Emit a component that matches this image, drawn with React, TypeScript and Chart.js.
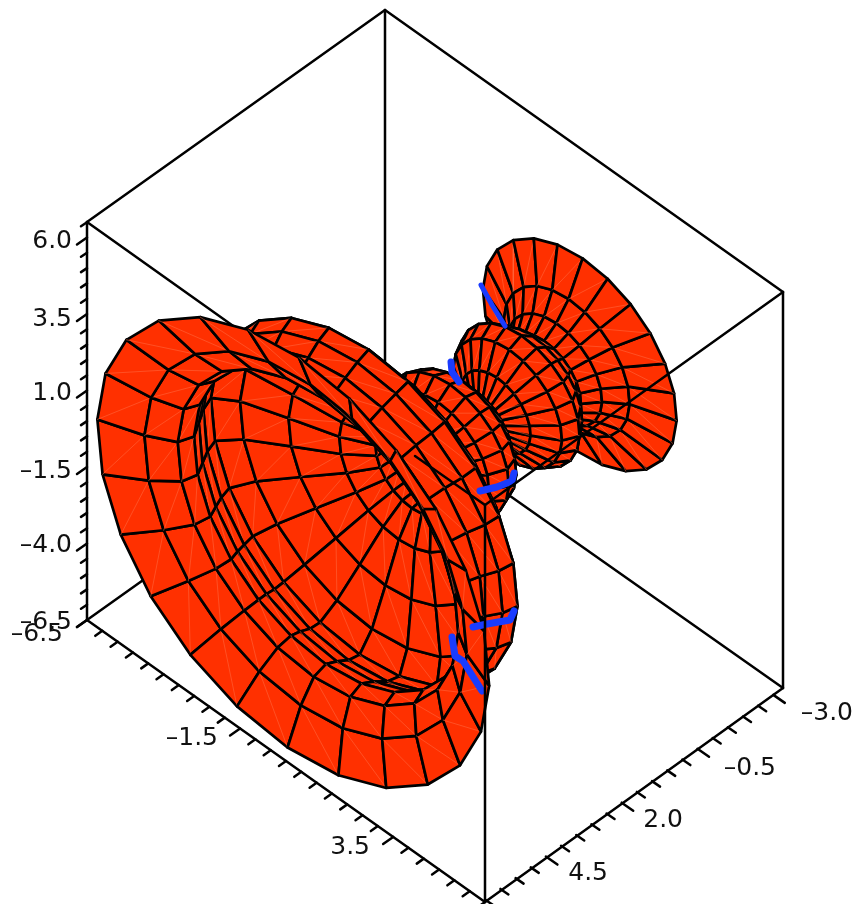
import React, { useEffect, useRef } from "react";
import { Chart, registerables } from "chart.js";

Chart.register(...registerables);

// Surface of revolution: profile (distance along axis, radius, small shift across the axis), in picture units
const ringS = [0, 14.5, 29, 43.5, 58, 72.5, 87, 101.5, 116, 130.5, 145, 159.5, 174, 188.5, 203, 217.5, 232, 246.5, 261, 275.5, 290, 304.5, 319, 333.5, 348];
const ringR = [271, 223, 194, 188, 197, 207, 212, 188, 138, 85, 52, 50, 72, 84, 78, 55, 18, 48, 75, 83, 70, 52, 65, 87, 134];
const ringShift = [-3, -2, -1, -1, -2, -2, -3, -3, -2, -1, 0, 0, 0, -1, -1, 0, 0, 0, 0, 0, 0, 0, 0, 0, 2];
const spokeDeg = [5, 20, 35, 50, 65, 80, 95, 110, 125, 140, 155, 170, 185, 200, 215, 230, 245, 260, 275, 290, 305, 320, 335, 350];
const axisOrigin = [295, 555];
const axisDir = [0.815, -0.58];
const aspect = 0.53;

// Box edges
const boxBack = [
  [[87, 222], [385, 10]], [[385, 10], [783, 292]], [[385, 10], [385, 408]],
  [[87, 222], [87, 620]], [[783, 292], [783, 688]], [[87, 620], [485, 902]],
  [[783, 688], [485, 902]], [[87, 620], [385, 408]], [[783, 688], [385, 408]],
  [[87, 222], [485, 505]],
];
const boxFront = [
  [[783, 292], [485, 505]], [[485, 505], [485, 902]], [[415, 456], [485, 505]],
];

// Blue curve, visible pieces
const blueA = [[481, 285], [492, 305], [505, 326]];
const blueB = [[451, 362], [452, 372], [459, 382]];
const blueC = [[514, 473], [512, 481], [497, 487], [480, 491]];
const blueD = [[514, 611], [510, 620], [487, 624], [473, 627]];
const blueE = [[452, 637], [455, 656], [463, 661], [482, 691]];

// Tick marks: axis positions (value, major)
const zTicks = [6.5, 6, 5.5, 5, 4.5, 4, 3.5, 3, 2.5, 2, 1.5, 1, 0.5, 0, -0.5, -1, -1.5, -2, -2.5, -3, -3.5, -4, -4.5, -5, -5.5, -6, -6.5];
const zMajor = [6, 3.5, 1, -1.5, -4, -6.5];
const xTicks = [-6.5, -6, -5.5, -5, -4.5, -4, -3.5, -3, -2.5, -2, -1.5, -1, -0.5, 0, 0.5, 1, 1.5, 2, 2.5, 3, 3.5, 4, 4.5, 5, 5.5, 6, 6.5];
const xMajor = [-6.5, -1.5, 3.5];
const yTicks = [-3, -2.5, -2, -1.5, -1, -0.5, 0, 0.5, 1, 1.5, 2, 2.5, 3, 3.5, 4, 4.5, 5, 5.5, 6, 6.5];
const yMajor = [-3, -0.5, 2, 4.5];

// Tick labels: text, right edge, vertical middle
const labelTexts = ["6.0", "3.5", "1.0", "–1.5", "–4.0", "–6.5", "–6.5", "–1.5", "3.5", "–3.0", "–0.5", "2.0", "4.5"];
const labelX = [72, 72, 72, 72, 72, 72, 63, 218, 370, 853, 776, 683, 608];
const labelY = [241, 319, 393, 471, 545, 622, 634, 738, 847, 713, 768, 820, 873];

const RED = "#ff3000";
const BLUE = "#1a3cff";
const BLACK = "#000000";
const W = 2.7;

const pt = (p: number[]) => ({ x: p[0], y: p[1] });

function line(points: number[][], color: string, width: number, extra: object = {}) {
  return {
    data: points.map(pt),
    showLine: true,
    borderColor: color,
    borderWidth: width,
    pointRadius: 0,
    tension: 0,
    fill: false,
    clip: false,
    borderCapStyle: "round",
    borderJoinStyle: "round",
    ...extra,
  };
}

function vertex(i: number, j: number) {
  const rad = (spokeDeg[j] * Math.PI) / 180;
  const r = ringR[i];
  const major = [-axisDir[1], axisDir[0]];
  const cx = axisOrigin[0] + ringS[i] * axisDir[0] + ringShift[i] * major[0];
  const cy = axisOrigin[1] + ringS[i] * axisDir[1] + ringShift[i] * major[1];
  const a = r * Math.cos(rad);
  const b = r * Math.sin(rad) * aspect;
  return {
    p: [cx + a * major[0] + b * axisDir[0], cy + a * major[1] + b * axisDir[1]],
    z: -0.625 * ringS[i] + 0.848 * r * Math.sin(rad),
  };
}

function meshDatasets() {
  const quads: { z: number; c: number[][] }[] = [];
  for (let i = 0; i < ringS.length - 1; i++) {
    for (let j = 0; j < spokeDeg.length; j++) {
      const k = (j + 1) % spokeDeg.length;
      const v = [vertex(i, j), vertex(i + 1, j), vertex(i + 1, k), vertex(i, k)];
      quads.push({ z: (v[0].z + v[1].z + v[2].z + v[3].z) / 4, c: v.map((q) => q.p) });
    }
  }
  // first dataset is painted last, so nearest first
  quads.sort((a, b) => b.z - a.z);
  const out: object[] = [];
  for (const q of quads) {
    out.push(line([q.c[1], q.c[3]], "#ff7048", 0.5));
    out.push(line([q.c[0], q.c[1], q.c[2], q.c[3], q.c[0]], BLACK, W, { fill: "shape", backgroundColor: RED }));
  }
  return out;
}

function tickDatasets() {
  const out: object[] = [];
  for (const z of zTicks) {
    const y = 620 - (z + 6.5) * 15.3 * 2;
    const m = zMajor.includes(z);
    out.push(line([[87, y], [87 - (m ? 10 : 6), y + (m ? 7 : 4)]], BLACK, 2.5));
  }
  for (const x of xTicks) {
    const t = (x + 6.5) / 13;
    const ax = 87 + t * 398;
    const ay = 620 + t * 282;
    const m = xMajor.includes(x);
    out.push(line([[ax, ay], [ax - (m ? 10 : 7), ay + (m ? 7 : 5)]], BLACK, 2.5));
  }
  for (const v of yTicks) {
    const ax = 773.3 - (v + 3) * 2 * 15.16;
    const ay = 688 + (783 - ax) * 0.711;
    const m = yMajor.includes(v);
    out.push(line([[ax, ay], [ax + (m ? 11.5 : 8), ay + (m ? 8 : 5.5)]], BLACK, 2.5));
  }
  return out;
}

const labelPlugin = {
  id: "tickLabels",
  afterDraw(chart: any) {
    const { ctx, scales } = chart;
    ctx.save();
    ctx.font = '25px "DejaVu Sans"';
    ctx.fillStyle = "#111111";
    ctx.textAlign = "right";
    ctx.textBaseline = "middle";
    labelTexts.forEach((t, i) => {
      ctx.fillText(t, scales.x.getPixelForValue(labelX[i]), scales.y.getPixelForValue(labelY[i]));
    });
    ctx.restore();
  },
};

export default function App() {
  const ref = useRef<HTMLCanvasElement | null>(null);
  useEffect(() => {
    if (!ref.current) return;
    const datasets: any[] = [
      ...boxFront.map((e) => line(e, BLACK, 2.5)),
      ...[blueA, blueB, blueC, blueD, blueE].map((b, i) => line(b, BLUE, i === 0 ? 5 : 7)),
      ...meshDatasets(),
      ...boxBack.map((e) => line(e, BLACK, 2.5)),
      ...tickDatasets(),
    ];
    const chart = new Chart(ref.current, {
      type: "scatter",
      data: { datasets },
      plugins: [labelPlugin],
      options: {
        animation: false,
        responsive: false,
        devicePixelRatio: 1,
        events: [],
        layout: { padding: 0 },
        plugins: { legend: { display: false }, tooltip: { enabled: false } },
        scales: {
          x: { type: "linear", min: 0, max: 859, display: false },
          y: { type: "linear", min: 0, max: 904, reverse: true, display: false },
        },
      },
    } as any);
    return () => chart.destroy();
  }, []);
  return (
    <div style={{ position: "absolute", left: 0, top: 0, width: 859, height: 904, background: "#fff" }}>
      <canvas ref={ref} width={859} height={904} style={{ display: "block" }} />
    </div>
  );
}
